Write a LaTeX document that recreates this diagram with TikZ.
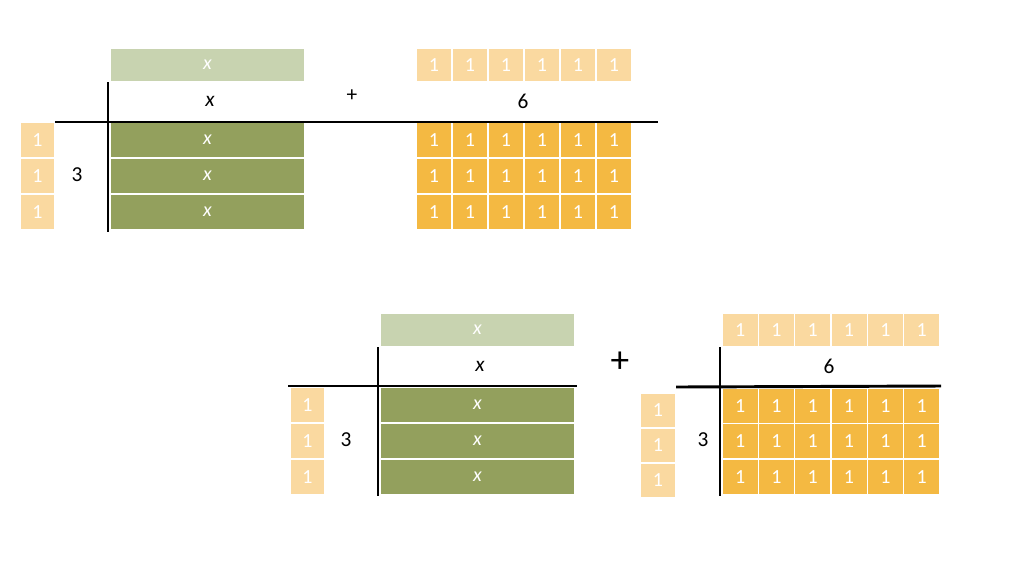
\documentclass[tikz,border=0pt]{standalone}
\usepackage{fontspec}
\setmainfont{Carlito}
\definecolor{lg}{HTML}{C8D3B0}
\definecolor{dg}{HTML}{93A05D}
\definecolor{lo}{HTML}{FAD9A0}
\definecolor{do}{HTML}{F4B942}
\begin{document}
\begin{tikzpicture}[x=0.75pt,y=-0.75pt,
  tile/.style={draw=white,line width=1pt,text=white,font=\fontsize{15}{15}\selectfont},
  axis/.style={line width=2.2pt,black},
  lab/.style={font=\fontsize{16}{16}\selectfont}]
\useasboundingbox (0,0) rectangle (1024,587);
% ---------- top ----------
\draw[tile,fill=lg] (110,48) rectangle node{\itshape x} (305,82);
\foreach \i in {0,...,5} \draw[tile,fill=lo] (416+\i*36,48) rectangle node{1} (452+\i*36,82);
\foreach \r in {0,1,2}{
  \draw[tile,fill=dg] (110,122+\r*36) rectangle node{\itshape x} (305,158+\r*36);
  \draw[tile,fill=lo] (20,122+\r*36) rectangle node{1} (55,158+\r*36);
  \foreach \i in {0,...,5} \draw[tile,fill=do] (416+\i*36,122+\r*36) rectangle node{1} (452+\i*36,158+\r*36);
}
\coordinate (t1) at (108,82); \coordinate (t2) at (108,232);
\coordinate (h1) at (55,122); \coordinate (h2) at (658,122);
\draw[axis] (t1) -- (t2); \draw[axis] (h1) -- (h2);
\node[lab] (tx) at (210,101) {\itshape x};
\node[lab] (tp) at (352,96) {+};
\node[lab] (t6) at (523,101) {6};
\node[lab] (t3) at (77,175) {3};
% ---------- bottom left ----------
\draw[tile,fill=lg] (380,313) rectangle node{\itshape x} (575,347);
\foreach \r in {0,1,2}{
  \draw[tile,fill=dg] (380,387+\r*36) rectangle node{\itshape x} (575,423+\r*36);
  \draw[tile,fill=lo] (290,387+\r*36) rectangle node{1} (325,423+\r*36);
}
\coordinate (b1) at (378,347); \coordinate (b2) at (378,496);
\coordinate (bh1) at (288,386); \coordinate (bh2) at (577,386);
\draw[axis] (b1) -- (b2); \draw[axis] (bh1) -- (bh2);
\node[lab] (bx) at (480,366) {\itshape x};
\node[lab] (b3) at (346,440) {3};
\node[font=\fontsize{28}{28}\selectfont] (bp) at (620,362) {+};
% ---------- bottom right ----------
\foreach \i in {0,...,5} \draw[tile,fill=lo] (722+\i*36.3,313) rectangle node{1} (758.3+\i*36.3,347);
\foreach \r in {0,1,2}{
  \draw[tile,fill=lo] (640,393+\r*35) rectangle node{1} (676,428+\r*35);
  \foreach \i in {0,...,5} \draw[tile,fill=do] (722+\i*36.3,388+\r*35.5) rectangle node{1} (758.3+\i*36.3,423.5+\r*35.5);
}
\coordinate (c1) at (720,347); \coordinate (c2) at (720,496);
\coordinate (ch1) at (676,387); \coordinate (ch2) at (941,386);
\draw[axis] (c1) -- (c2); \draw[axis] (ch1) -- (ch2);
\node[lab] (c6) at (829,366) {6};
\node[lab] (c3) at (703,440) {3};
\end{tikzpicture}
\end{document}
